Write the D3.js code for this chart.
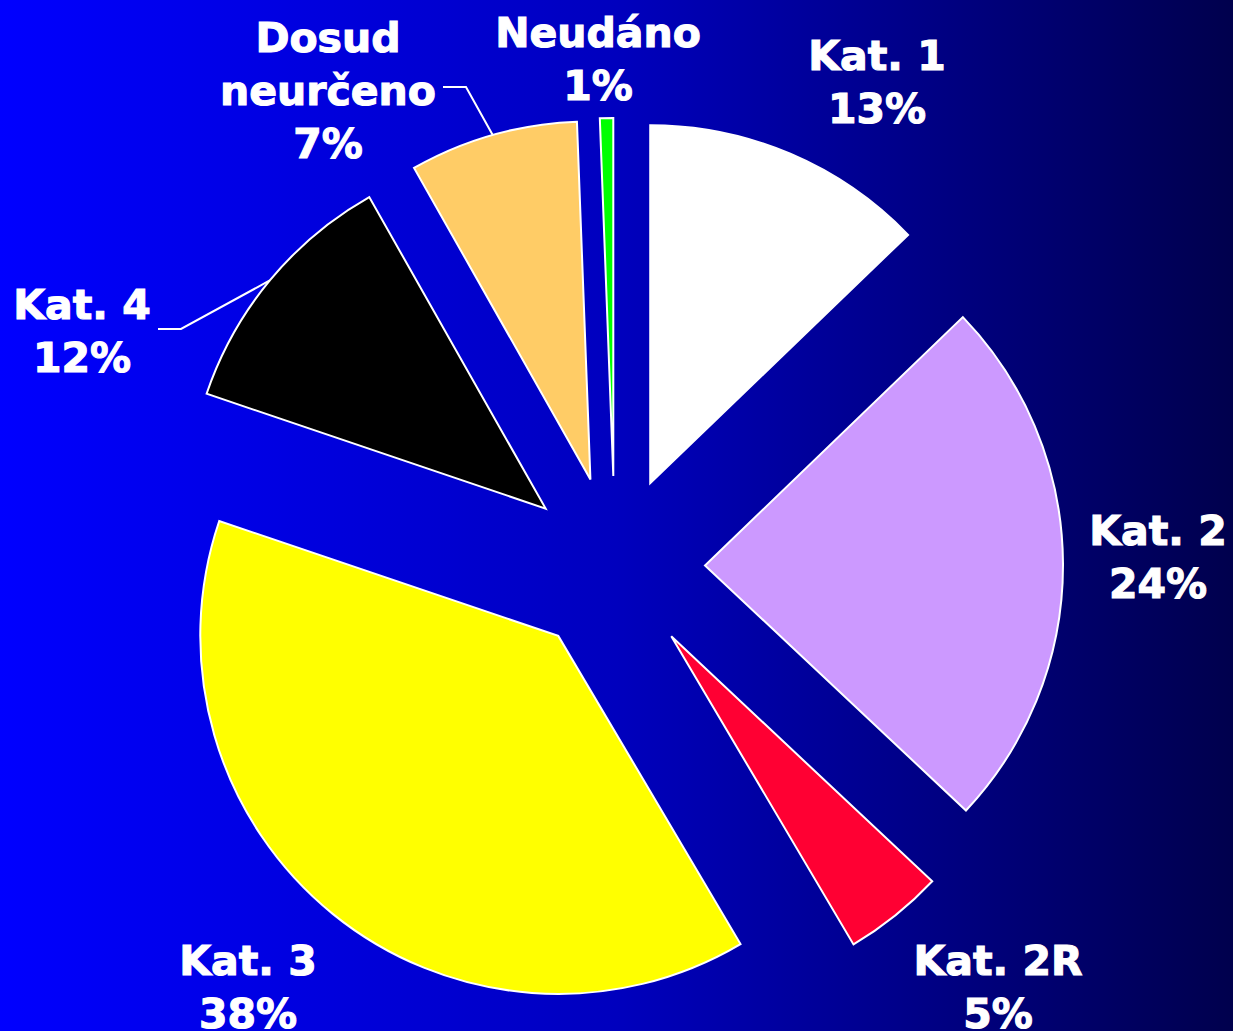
<!DOCTYPE html>
<html>
<head>
<meta charset="utf-8">
<script src="https://cdn.jsdelivr.net/npm/d3@7"></script>
<style>
  html, body { margin: 0; padding: 0; background: #000080; }
  svg { display: block; }
</style>
</head>
<body>
<div id="chart"></div>
<script>
// data
var categories = ["Kat. 1", "Kat. 2", "Kat. 2R", "Kat. 3", "Kat. 4", "Dosud neurčeno", "Neudáno"];
var values = [12.8, 24.2, 4.5, 38.7, 11.6, 7.6, 0.6];
var pctLabels = ["13%", "24%", "5%", "38%", "12%", "7%", "1%"];
var nameLines = [["Kat. 1"], ["Kat. 2"], ["Kat. 2R"], ["Kat. 3"], ["Kat. 4"], ["Dosud", "neurčeno"], ["Neudáno"]];
var colors = ["#FFFFFF", "#CC99FF", "#FF0033", "#FFFF00", "#000000", "#FFCC66", "#00FF00"];

// layout
var svgWidth = 1233;
var svgHeight = 1031;
var cx = 615, cy = 566;
var radius = 358;
var explode = 90;
var lineHeight = 53;

// first-baseline anchor of each label, relative to the pie centre
var labelAnchor = [[262, -496], [543, -21], [383, 409], [-367, 409], [-533, -247], [-287, -514], [-17, -519]];
// leader lines: start of line and elbow (relative to centre); null = none
var leaders = [null, null, null, null, [[-457, -237], [-434, -237]], [[-172, -479], [-149, -479]], null];

var svg = d3.select("#chart")
    .append("svg")
    .attr("width", svgWidth)
    .attr("height", svgHeight);

var grad = svg.append("defs").append("linearGradient")
    .attr("id", "bg")
    .attr("x1", "0%").attr("x2", "100%")
    .attr("y1", "0%").attr("y2", "0%");
grad.append("stop").attr("offset", "0%").attr("stop-color", "#0000FF");
grad.append("stop").attr("offset", "50%").attr("stop-color", "#0000BE");
grad.append("stop").attr("offset", "100%").attr("stop-color", "#00004D");

svg.append("rect")
    .attr("width", svgWidth)
    .attr("height", svgHeight)
    .attr("fill", "url(#bg)");

var chartGroup = svg.append("g")
    .attr("transform", `translate(${cx}, ${cy})`);

var pie = d3.pie().sort(null).value(d => d);
var arcs = pie(values);

var arc = d3.arc().innerRadius(0).outerRadius(radius);

function mid(d) { return (d.startAngle + d.endAngle) / 2; }
function offset(d, r) { return [Math.sin(mid(d)) * r, -Math.cos(mid(d)) * r]; }

chartGroup.selectAll("path.slice")
    .data(arcs)
    .enter()
    .append("path")
    .attr("class", "slice")
    .attr("transform", d => `translate(${offset(d, explode)[0]}, ${offset(d, explode)[1]})`)
    .attr("d", arc)
    .attr("fill", (d, i) => colors[i])
    .attr("stroke", "#FFFFFF")
    .attr("stroke-width", 2)
    .attr("stroke-linejoin", "miter");

// leader lines end at the outer mid-point of the exploded slice
arcs.forEach(function(d, i) {
    if (!leaders[i]) return;
    var end = offset(d, explode + radius);
    var pts = leaders[i].concat([end]);
    chartGroup.append("polyline")
        .attr("points", pts.map(p => p.join(",")).join(" "))
        .attr("fill", "none")
        .attr("stroke", "#FFFFFF")
        .attr("stroke-width", 2);
});

// labels
var labels = chartGroup.selectAll("text.lbl")
    .data(arcs)
    .enter()
    .append("text")
    .attr("class", "lbl")
    .attr("text-anchor", "middle")
    .attr("font-family", "'DejaVu Sans', Verdana, sans-serif")
    .attr("font-weight", "bold")
    .attr("font-size", "41px")
    .attr("fill", "#FFFFFF")
    .attr("stroke", "#FFFFFF")
    .attr("stroke-width", 1.1);

labels.each(function(d, i) {
    var t = d3.select(this);
    var lines = nameLines[i].concat([pctLabels[i]]);
    lines.forEach(function(s, j) {
        t.append("tspan")
            .attr("x", labelAnchor[i][0])
            .attr("y", labelAnchor[i][1] + j * lineHeight)
            .text(s);
    });
});
</script>
</body>
</html>
